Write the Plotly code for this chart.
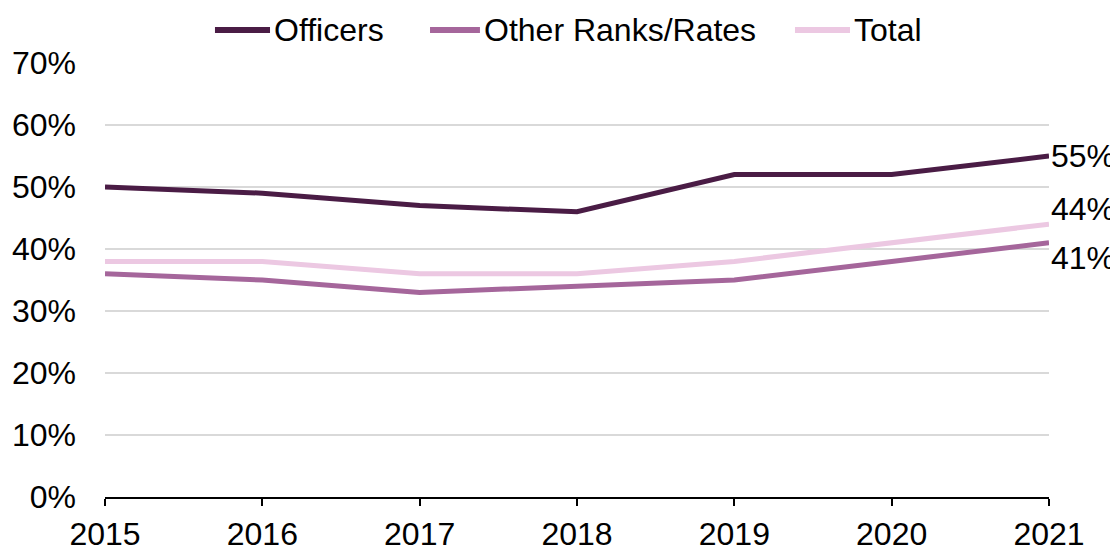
import plotly.graph_objects as go

years = [2015, 2016, 2017, 2018, 2019, 2020, 2021]
officers = [50, 49, 47, 46, 52, 52, 55]
other_ranks = [36, 35, 33, 34, 35, 38, 41]
total = [38, 38, 36, 36, 38, 41, 44]
series_names = ["Officers", "Other Ranks/Rates", "Total"]
y_ticks = [0, 10, 20, 30, 40, 50, 60, 70]
y_tick_labels = [f"{v}%" for v in y_ticks]

font = "Liberation Sans, Arial, sans-serif"
FS = 32
colors = {"Officers": "#4a1c45", "Other Ranks/Rates": "#a5669b", "Total": "#ecc8e2"}

fig = go.Figure()
for name, vals in zip(series_names, [officers, other_ranks, total]):
    fig.add_trace(go.Scatter(x=years, y=vals, name=name, mode="lines",
                             line=dict(color=colors[name], width=5), showlegend=False))

# end labels
for vals, shift in [(officers, 0), (total, 15), (other_ranks, -15)]:
    fig.add_annotation(x=years[-1], y=vals[-1], text=f"{vals[-1]}%", showarrow=False,
                       xanchor="left", yanchor="middle", xshift=0, yshift=shift,
                       font=dict(family=font, size=FS, color="black"))

# legend (drawn above the plot area, paper coordinates)
legend_y = 1.076
legend_pos = [(0.1165, 0.1748), (0.3443, 0.3972), (0.7309, 0.7892)]
for name, (x0, x1) in zip(series_names, legend_pos):
    fig.add_shape(type="line", xref="paper", yref="paper", x0=x0, x1=x1,
                  y0=legend_y, y1=legend_y,
                  line=dict(color=colors[name], width=6))
    fig.add_annotation(xref="paper", yref="paper", x=x1 + 0.002, y=legend_y,
                       text=name, showarrow=False, xanchor="left", yanchor="middle",
                       font=dict(family=font, size=FS, color="black"))

# page body has an 8px default margin, so the figure is 8px smaller each way
fig.update_layout(
    width=1110, height=540,
    margin=dict(l=97, r=69, t=55, b=51),
    paper_bgcolor="white", plot_bgcolor="white",
    font=dict(family=font, size=FS, color="black"),
    showlegend=False,
)
fig.update_xaxes(range=[2015, 2021], tickvals=years, ticktext=[str(y) for y in years],
                 showline=True, linecolor="black", linewidth=2, ticks="outside",
                 ticklen=7, tickcolor="black", tickwidth=1.5, showgrid=False,
                 tickfont=dict(family=font, size=FS), automargin=False,
                 ticklabelstandoff=1)
fig.update_yaxes(range=[0, 70], tickvals=y_ticks, ticktext=y_tick_labels,
                 showgrid=True, gridcolor="#d9d9d9", gridwidth=1.5, zeroline=False,
                 showline=False, ticks="", tickfont=dict(family=font, size=FS),
                 automargin=False, ticklabelstandoff=28)

fig.write_html("out.html")
